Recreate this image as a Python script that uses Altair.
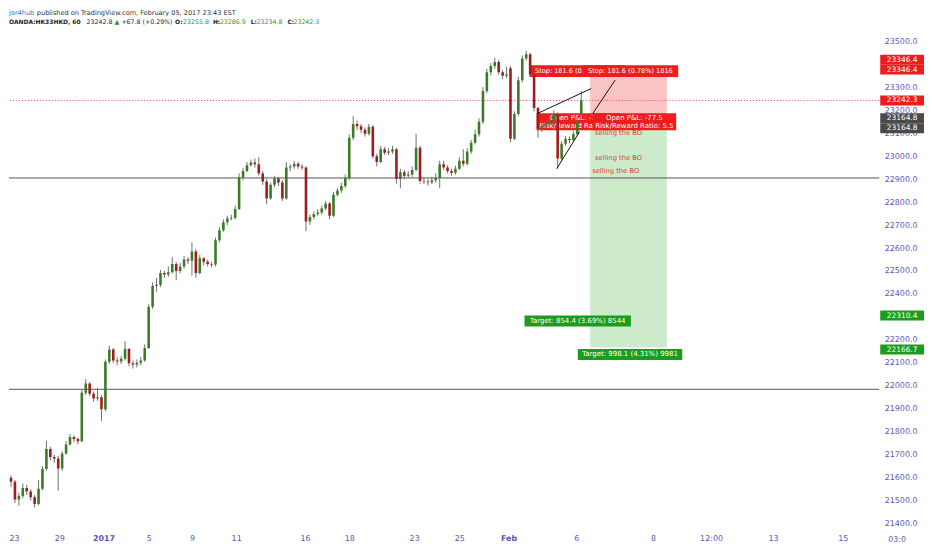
import altair as alt
import pandas as pd

# ---------------- data ----------------
opens = [
    21600, 21582, 21505, 21520, 21555, 21540, 21515, 21485, 21552, 21638,
    21725, 21690, 21684, 21640, 21705, 21745, 21777, 21768, 21759, 21970,
    22010, 21965, 21945, 21950, 21898, 22105, 22158, 22110, 22106, 22118,
    22160, 22098, 22093, 22100, 22110, 22165, 22344, 22435, 22440, 22491,
    22485, 22495, 22530, 22500, 22520, 22550, 22545, 22585, 22491, 22555,
    22540, 22530, 22528, 22634, 22677, 22712, 22729, 22732, 22770, 22907,
    22935, 22960, 22972, 22965, 22924, 22890, 22816, 22875, 22903, 22885,
    22816, 22950, 22955, 22967, 22955, 22950, 22715, 22735, 22748, 22755,
    22772, 22794, 22740, 22832, 22850, 22870, 22905, 23080, 23140, 23130,
    23115, 23097, 23128, 23000, 22975, 23030, 23015, 23020, 23030, 22900,
    22930, 22915, 22920, 22940, 23037, 22892, 22890, 22886, 22895, 22905,
    22965, 22950, 22935, 22928, 22945, 22980, 22967, 23020, 23058, 23095,
    23150, 23284, 23365, 23392, 23410, 23365, 23350, 23383, 23076, 23184,
    23330, 23425, 23444, 23357, 23210, 23120, 23132, 23141, 23150, 23184,
    22990, 23054, 23075, 23070, 23095, 23184,
]
highs = [
    21610, 21590, 21535, 21575, 21570, 21550, 21525, 21590, 21650, 21760,
    21735, 21700, 21695, 21715, 21760, 21790, 21785, 21775, 21985, 22030,
    22015, 21975, 21990, 21960, 22115, 22175, 22165, 22125, 22130, 22195,
    22165, 22110, 22115, 22125, 22180, 22355, 22450, 22470, 22505, 22500,
    22520, 22560, 22540, 22535, 22565, 22560, 22625, 22595, 22570, 22560,
    22550, 22540, 22645, 22690, 22725, 22740, 22745, 22785, 22925, 22950,
    22975, 22985, 22990, 22995, 22935, 22900, 22885, 22915, 22910, 22895,
    22975, 22965, 22980, 22975, 22965, 22955, 22745, 22760, 22770, 22785,
    22805, 22800, 22845, 22862, 22885, 22920, 23095, 23175, 23155, 23140,
    23125, 23140, 23135, 23010, 23045, 23040, 23035, 23045, 23035, 22945,
    22940, 22935, 22955, 23097, 23045, 22905, 22900, 22910, 22925, 22980,
    22980, 22960, 22945, 22958, 22995, 23030, 23035, 23070, 23115, 23165,
    23300, 23380, 23405, 23428, 23420, 23375, 23390, 23392, 23195, 23345,
    23438, 23458, 23450, 23365, 23215, 23145, 23155, 23165, 23200, 23190,
    23065, 23088, 23085, 23110, 23165, 23284,
]
lows = [
    21560, 21490, 21478, 21510, 21525, 21500, 21470, 21480, 21545, 21630,
    21675, 21665, 21543, 21630, 21700, 21740, 21755, 21745, 21755, 21960,
    21955, 21930, 21935, 21846, 21890, 22095, 22100, 22090, 22095, 22110,
    22085, 22075, 22080, 22090, 22105, 22160, 22335, 22410, 22430, 22470,
    22475, 22490, 22460, 22490, 22510, 22530, 22480, 22470, 22485, 22525,
    22520, 22515, 22520, 22625, 22670, 22700, 22720, 22725, 22765, 22895,
    22930, 22955, 22950, 22915, 22875, 22790, 22810, 22865, 22870, 22805,
    22810, 22935, 22945, 22945, 22940, 22673, 22700, 22725, 22740, 22745,
    22765, 22725, 22735, 22825, 22840, 22860, 22895, 23070, 23115, 23100,
    23085, 23090, 22990, 22955, 22970, 23005, 23005, 23010, 22880, 22860,
    22900, 22905, 22910, 22935, 22880, 22878, 22872, 22878, 22885, 22860,
    22940, 22925, 22915, 22920, 22940, 22955, 22960, 23010, 23050, 23085,
    23140, 23275, 23350, 23380, 23355, 23335, 23340, 23060, 23070, 23175,
    23320, 23415, 23345, 23195, 23080, 23105, 23120, 23130, 23140, 22946,
    22980, 23045, 23055, 23060, 23090, 23175,
]
closes = [
    21582, 21505, 21520, 21555, 21540, 21515, 21485, 21552, 21638, 21725,
    21690, 21684, 21640, 21705, 21745, 21777, 21768, 21759, 21970, 22010,
    21965, 21945, 21950, 21898, 22105, 22158, 22110, 22106, 22118, 22160,
    22098, 22093, 22100, 22110, 22165, 22344, 22435, 22440, 22491, 22485,
    22495, 22530, 22500, 22520, 22550, 22545, 22585, 22491, 22555, 22540,
    22530, 22528, 22634, 22677, 22712, 22729, 22732, 22770, 22907, 22935,
    22960, 22972, 22965, 22924, 22890, 22816, 22875, 22903, 22885, 22816,
    22950, 22955, 22967, 22955, 22950, 22715, 22735, 22748, 22755, 22772,
    22794, 22740, 22832, 22850, 22870, 22905, 23080, 23140, 23130, 23115,
    23097, 23128, 23000, 22975, 23030, 23015, 23020, 23030, 22900, 22930,
    22915, 22920, 22940, 23037, 22892, 22890, 22886, 22895, 22905, 22965,
    22950, 22935, 22928, 22945, 22980, 22967, 23020, 23058, 23095, 23150,
    23284, 23365, 23392, 23410, 23365, 23350, 23355, 23076, 23184, 23330,
    23425, 23444, 23357, 23210, 23120, 23132, 23141, 23150, 23184, 22990,
    23054, 23075, 23070, 23095, 23150, 23242,
]

# axis labels visible in the reference (23400 and 22300 sit under the price tags there)
price_ticks = [21400, 21500, 21600, 21700, 21800, 21900, 22000, 22100, 22200, 22400,
               22500, 22600, 22700, 22800, 22900, 23000, 23100, 23200, 23300, 23500]
date_tick_pos = [0.75, 12.25, 23.5, 35, 46, 57.25, 74.75, 86, 102.5, 114, 126.5,
                 143.75, 163.25, 178, 193.75, 211.5]
date_tick_labels = ["23", "29", "2017", "5", "9", "11", "16", "18", "23", "25", "Feb",
                    "6", "8", "12:00", "13", "15"]
bold_date_labels = ["2017", "Feb"]

level_prices = [22905, 21985]
last_price = 23242.3
entry_price = 23164.8
stop_price = 23346.4
target_prices = [22310.4, 22166.7]
zone_start, zone_end = 147.25, 166.75

wedge_seg = ["a", "a", "b", "b", "c", "c"]
wedge_x = [133.75, 147.5, 138.75, 144.6, 147.9, 153.6]
wedge_y = [23185, 23294, 22945, 23107, 23185, 23331]

tag_prices = [23346.4, 23346.4, 23242.3, 23164.8, 23164.8, 22310.4, 22166.7]
tag_texts = ["23346.4", "23346.4", "23242.3", "23164.8", "23164.8", "22310.4", "22166.7"]

stop_text = "Stop: 181.6 (0.78%) 1816"
pnl_texts = ["Open P&L: -77.5", "Risk/Reward Ratio: 5.5"]
target_texts = ["Target: 854.4 (3.69%) 8544", "Target: 998.1 (4.31%) 9981"]
note_text = "selling the BO"
note_x = [154.5, 154.5, 153.75]
note_y = [23101, 22993, 22937]

header1 = ["Jor4hub", "published on TradingView.com, February 05, 2017 23:43 EST"]
header2 = ["OANDA:HK33HKD, 60", "23242.8", "\u25b2", "+67.8 (+0.29%)", "O:", "23255.8",
           "H:", "23286.9", "L:", "23234.8", "C:", "23242.3"]

# ---------------- layout / style ----------------
W, H = 875, 520
FONT = "DejaVu Sans"
AXIS_COLOR = "#5457b8"
UP, DOWN, WICK = "#3c7a28", "#a01c1c", "#707070"
RED, GREY, GREEN = "#ee1c1c", "#4a4a4a", "#1c9c1c"
tag_colors = [RED, RED, RED, GREY, GREY, GREEN, GREEN]
tag_dy = [-17, -7, 0, 0, 10, 1, 2]
header1_x = [0, 28]
header1_col = ["#2e7ab8", "#333333"]
header2_x = [0, 78, 106, 113, 167, 175, 205, 212, 243, 249, 280, 286]
header2_col = ["#222222", "#222222", GREEN, "#222222", "#222222", GREEN,
               "#222222", GREEN, "#222222", GREEN, "#222222", GREEN]
header2_w = ["bold", "normal", "normal", "normal", "bold", "normal",
             "bold", "normal", "bold", "normal", "bold", "normal"]
header2_size = [6.0, 6.3, 6.3, 6.3, 6.0, 6.3, 6.0, 6.3, 6.0, 6.3, 6.0, 6.3]

xs = alt.Scale(domain=[0.75, 0.75 + W / 4.0], nice=False, zero=False)
ys = alt.Scale(domain=[21387.0, 23638.6], nice=False, zero=False)

label_expr = "''"
for p, l in reversed(list(zip(date_tick_pos, date_tick_labels))):
    label_expr = f"datum.value == {p} ? '{l}' : ({label_expr})"
bold_test = " || ".join(
    f"datum.value == {p}" for p, l in zip(date_tick_pos, date_tick_labels) if l in bold_date_labels)

x_axis = alt.Axis(values=date_tick_pos, labelExpr=label_expr, grid=False, domain=False, ticks=False,
                  labelColor=AXIS_COLOR, labelFont=FONT, labelFontSize=8, labelPadding=8,
                  labelFlush=False, labelOverlap=False, title=None,
                  labelFontWeight=alt.condition(bold_test, alt.value("bold"), alt.value("normal")))
y_axis = alt.Axis(values=price_ticks, format=".1f", orient="right", grid=False, domain=False,
                  ticks=False, labelColor=AXIS_COLOR, labelFont=FONT, labelFontSize=8,
                  labelPadding=5, labelOverlap=False, labelFlush=False, title=None)


def X(field):
    return alt.X(field, scale=xs, axis=x_axis, title=None)


def Y(field):
    return alt.Y(field, scale=ys, axis=y_axis, title=None)


def rect_path(w, h):
    r = h / w
    return f"M-1,{-r:.4f}L1,{-r:.4f}L1,{r:.4f}L-1,{r:.4f}Z"


def box(xi, price, w, h, fill, dy, xpix=None):
    d = pd.DataFrame({"x": [xi], "y": [price]})
    enc = {"y": Y("y:Q")}
    enc["x"] = alt.value(xpix) if xpix is not None else X("x:Q")
    return alt.Chart(d).mark_point(shape=rect_path(w, h), size=w * w, filled=True, color=fill,
                                   opacity=1, strokeWidth=0, yOffset=dy).encode(**enc)


def label(xi, price, text, size, color, dy, xpix=None, weight="normal"):
    d = pd.DataFrame({"x": [xi], "y": [price], "t": [text]})
    enc = {"y": Y("y:Q"), "text": alt.Text("t:N")}
    enc["x"] = alt.value(xpix) if xpix is not None else X("x:Q")
    return alt.Chart(d).mark_text(font=FONT, fontSize=size, color=color, align="center",
                                  baseline="middle", yOffset=dy, fontWeight=weight).encode(**enc)


def free_text(text, xpix, ypix, size, color, weight="normal"):
    d = pd.DataFrame({"t": [text]})
    return alt.Chart(d).mark_text(font=FONT, fontSize=size, color=color, align="left",
                                  baseline="middle", fontWeight=weight).encode(
        x=alt.value(xpix), y=alt.value(ypix), text=alt.Text("t:N"))


df = pd.DataFrame({"i": list(range(len(closes))), "open": opens, "high": highs,
                   "low": lows, "close": closes})

zones = alt.Chart(pd.DataFrame({
    "x0": [zone_start, zone_start], "x1": [zone_end, zone_end],
    "y0": [entry_price, entry_price], "y1": [stop_price, target_prices[1]],
    "fill": ["#f9c4c4", "#cdebcb"]})).mark_rect().encode(
    x=X("x0:Q"), x2="x1:Q", y=Y("y0:Q"), y2="y1:Q", color=alt.Color("fill:N", scale=None))

levels = alt.Chart(pd.DataFrame({"p": level_prices})).mark_rule(
    color="#555555", strokeWidth=1).encode(y=Y("p:Q"))
last_line = alt.Chart(pd.DataFrame({"p": [last_price]})).mark_rule(
    color="#e05050", strokeWidth=1, strokeDash=[1, 2]).encode(y=Y("p:Q"))

wicks = alt.Chart(df).mark_rule(color=WICK, strokeWidth=1, clip=True).encode(
    x=X("i:Q"), y=Y("low:Q"), y2="high:Q")
bodies = alt.Chart(df).mark_bar(width=2.6, clip=True).encode(
    x=X("i:Q"), y=Y("open:Q"), y2="close:Q",
    color=alt.condition("datum.close >= datum.open", alt.value(UP), alt.value(DOWN)))

wedges = alt.Chart(pd.DataFrame({"s": wedge_seg, "x": wedge_x, "y": wedge_y})).mark_line(
    color="#111111", strokeWidth=1).encode(x=X("x:Q"), y=Y("y:Q"), detail="s:N")

# first position labels (partly hidden)
group1 = [
    box(144.0, stop_price, 96, 12, RED, -5.5),
    label(144.0, stop_price, stop_text, 6.6, "white", -5.5),
    box(144.25, entry_price, 84, 17, RED, 3.5),
    label(144.25, entry_price, pnl_texts[0], 7, "white", -0.5),
    label(144.25, entry_price, pnl_texts[1], 7, "white", 8),
    box(144.1, target_prices[0], 107, 11, GREEN, 6.5),
    label(144.1, target_prices[0], target_texts[0], 7, "white", 6.5),
]
note1 = label(note_x[0], note_y[0], note_text, 6.8, "#d84040", 0)
group2 = [
    box(157.5, stop_price, 96, 12, RED, -5.5),
    label(157.5, stop_price, stop_text, 6.6, "white", -5.5),
    box(158.5, entry_price, 84, 17, RED, 3.5),
    label(158.5, entry_price, pnl_texts[0], 7, "white", -0.5),
    label(158.5, entry_price, pnl_texts[1], 7, "white", 8),
    box(157.4, target_prices[1], 105, 11, GREEN, 7),
    label(157.4, target_prices[1], target_texts[1], 7, "white", 7),
    label(note_x[1], note_y[1], note_text, 6.8, "#d84040", 0),
    label(note_x[2], note_y[2], note_text, 6.8, "#d84040", 0),
]

tags = []
for p, t, c, dy in zip(tag_prices, tag_texts, tag_colors, tag_dy):
    tags.append(box(0, p, 44, 10, c, dy, xpix=W + 23))
    tags.append(label(0, p, t, 7.5, "white", dy, xpix=W + 23))

header = []
for t, x, c in zip(header1, header1_x, header1_col):
    header.append(free_text(t, x, 4, 6.6, c))
for t, x, c, w, s in zip(header2, header2_x, header2_col, header2_w, header2_size):
    header.append(free_text(t, x, 12.5, s, c, w))
header.append(free_text("03:0", W + 9, H + 13, 8, AXIS_COLOR))

chart = alt.layer(
    zones, levels, last_line, *group1, note1, wicks, bodies, wedges, *group2, *tags, *header
).properties(width=W, height=H, padding=0, background="white").configure_view(strokeWidth=0)

chart.save("out.html", embed_options={"renderer": "svg", "actions": False})
